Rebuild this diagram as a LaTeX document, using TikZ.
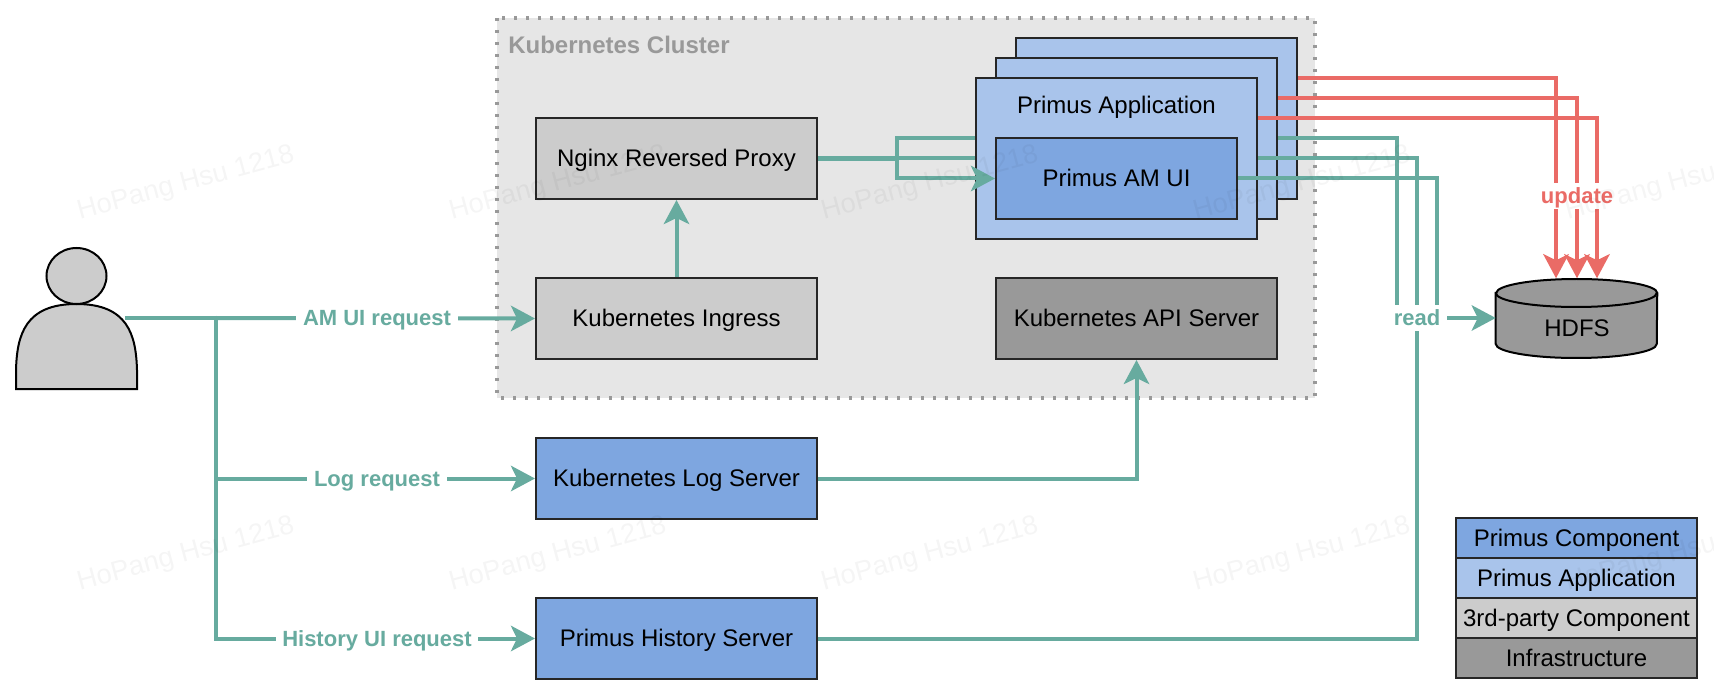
\documentclass[tikz,border=0pt]{standalone}
\usepackage{fontspec}
\setmainfont{Liberation Sans}
\usetikzlibrary{arrows.meta}
\definecolor{compblue}{HTML}{7EA6E0}
\definecolor{appblue}{HTML}{A9C4EB}
\definecolor{thirdgray}{HTML}{CCCCCC}
\definecolor{infragray}{HTML}{999999}
\definecolor{clustergray}{HTML}{E6E6E6}
\definecolor{flowgreen}{HTML}{67AB9F}
\definecolor{flowred}{HTML}{EA6B66}
\tikzset{
  textline/.style={text height=15pt,text depth=3.4pt,font=\fontsize{18}{20}\selectfont},
  box/.style={draw=black!85,line width=1.5pt,inner sep=0pt,textline},
  compbox/.style={box,minimum width=210.75pt,minimum height=60.75pt},
  appbox/.style={box,fill=appblue,minimum width=210.75pt,minimum height=120.75pt},
  legendbox/.style={box,fill=#1,minimum width=180.75pt,minimum height=30pt,text height=14.5pt,text depth=2.4pt},
  flow/.style={line width=3pt},
  flowtip/.style={flow,-{Stealth[length=18pt,width=19pt,inset=4.5pt]}},
  flowlabel/.style={fill=white,inner xsep=5pt,inner ysep=2pt,text height=14pt,text depth=2pt,font=\fontsize{16.5}{18}\selectfont\bfseries},
  mark text/.style={rotate=15,text=black,text opacity=0.04,font=\fontsize{20.5}{24}\selectfont}
}
\begin{document}
\begin{tikzpicture}[x=0.75pt,y=-0.75pt]
    \useasboundingbox (0,0) rectangle (1714,695);

    % -- Cluster background --
    \draw[fill=clustergray,draw=infragray,line width=2.6pt,dash pattern=on 2.6pt off 6.4pt]
      (497,18) rectangle (1315,398);
    \node[anchor=west,text=infragray,inner sep=0pt,textline,font=\fontsize{18}{20}\selectfont\bfseries] (clustertitle)
      at (508,45.5) {Kubernetes Cluster};

    % -- User figure --
    \draw[fill=thirdgray,line width=1.5pt]
      (16,389) -- (16,370) .. controls (17,335) and (25,304) .. (76.5,304)
      .. controls (128,304) and (136,335) .. (137,370) -- (137,389) -- cycle;
    \draw[fill=thirdgray,line width=1.5pt] (76.5,276) ellipse [x radius=30,y radius=28];
    \coordinate (user) at (125,318);
    \coordinate (fork) at (216,318);

    % -- Components --
    \node[compbox,fill=thirdgray] (nginx) at (676.5,158.5) {Nginx Reversed Proxy};
    \node[compbox,fill=thirdgray] (ingress) at (676.5,318.5) {Kubernetes Ingress};
    \node[compbox,fill=compblue] (logserver) at (676.5,478.5) {Kubernetes Log Server};
    \node[compbox,fill=compblue] (history) at (676.5,638.5) {Primus History Server};
    \node[compbox,fill=infragray] (api) at (1136.5,318.5) {Kubernetes API Server};

    % -- Stack of application boxes --
    \node[appbox] (appback) at (1156.5,118.5) {};
    \node[appbox] (appmid) at (1136.5,138.5) {};
    \node[appbox] (appfront) at (1116.5,158.5) {};
    \node[inner sep=0pt,textline] (applabel) at (1116.5,106) {Primus Application};
    \node[box,fill=compblue,minimum width=180.75pt,minimum height=60.75pt] (amui) at (1116.5,178.5) {Primus AM UI};

    % -- HDFS cylinder --
    \node[minimum width=120.75pt,minimum height=59.25pt,inner sep=0pt] (hdfs) at (1576.5,318) {};
    \draw[fill=infragray,line width=1.5pt]
      (hdfs.west |- 0,293) -- (hdfs.west |- 0,344) arc [start angle=180,end angle=0,x radius=80.5,y radius=14]
      -- (hdfs.east |- 0,293) arc [start angle=0,end angle=-180,x radius=80.5,y radius=14] -- cycle;
    \draw[line width=1.5pt] (hdfs.west |- 0,293) arc [start angle=180,end angle=0,x radius=80.5,y radius=14];
    \node[inner sep=0pt,textline] (hdfstext) at (1577,329) {HDFS};

    % -- Requests from the user --
    \draw[flow,flowgreen,line width=3.6pt] (user) -- (fork);
    \draw[flowtip,flowgreen] (fork) -- (ingress.west);
    \draw[flowtip,flowgreen] (fork) |- (logserver.west);
    \draw[flowtip,flowgreen] (fork) |- (history.west);
    \node[flowlabel,text=flowgreen] (amlabel) at (377,318) {AM UI request};
    \node[flowlabel,text=flowgreen] (loglabel) at (377,478) {Log request};
    \node[flowlabel,text=flowgreen] (histlabel) at (377,638) {History UI request};

    % -- Inside the cluster --
    \draw[flowtip,flowgreen] (ingress) -- (nginx);
    \draw[flowtip,flowgreen] (logserver.east) -| (api.south);
    \coordinate (nginxfork) at (897,158.5);
    \draw[flow,flowgreen,line width=3.6pt] (nginx.east) -- (nginxfork);
    \draw[flow,flowgreen] (nginxfork) -- (appfront.west |- 0,158.5);
    \draw[flow,flowgreen] (nginxfork) |- (appfront.west |- 0,138);
    \draw[flowtip,flowgreen] (nginxfork) |- (amui.west);

    % -- Reads towards HDFS --
    \coordinate (readmid) at (1417,318);
    \draw[flow,flowgreen] (appmid.east |- 0,138) -| (1397,318);
    \draw[flow,flowgreen] (appfront.east |- 0,158) -| (readmid);
    \draw[flow,flowgreen] (amui.east) -| (1437,318);
    \draw[flow,flowgreen] (history.east) -| (readmid);
    \node[flowlabel,text=flowgreen] (read) at (readmid) {read};
    \draw[flowtip,flowgreen] (read.east) -- (hdfs.west);

    % -- Updates towards HDFS --
    \draw[flowtip,flowred] (appback.east |- 0,78) -| (1556,0 |- hdfs.north);
    \draw[flowtip,flowred] (appmid.east |- 0,98) -| (1577,0 |- hdfs.north);
    \draw[flowtip,flowred] (appfront.east |- 0,118) -| (1597,0 |- hdfs.north);
    \node[flowlabel,text=flowred] (update) at (1577,196) {update};

    % -- Legend --
    \node[legendbox=compblue] (legcomp) at (1576.5,538) {Primus Component};
    \node[legendbox=appblue] (legapp) at (1576.5,578) {Primus Application};
    \node[legendbox=thirdgray] (legthird) at (1576.5,618) {3rd-party Component};
    \node[legendbox=infragray] (leginfra) at (1576.5,658) {Infrastructure};

    % -- Watermark --
    \foreach \wx in {186,558,930,1302,1674}
      \foreach \wy in {184,555}
        \node[mark text] (mark\wx\wy) at (\wx,\wy) {HoPang Hsu 1218};

\end{tikzpicture}
\end{document}
